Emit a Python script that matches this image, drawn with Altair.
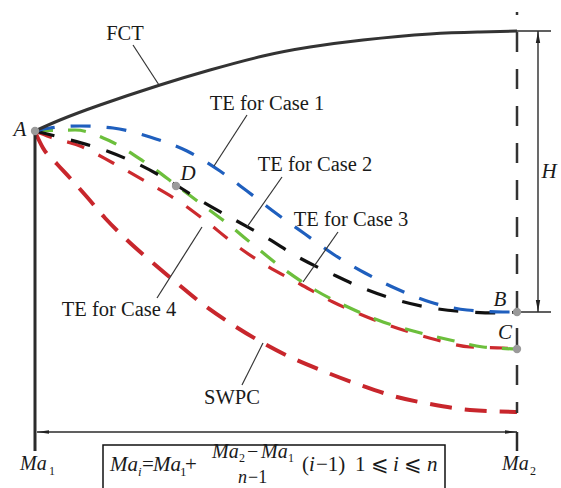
import altair as alt
import pandas as pd

W, H = 561, 488
FONT = "'Liberation Serif', 'DejaVu Serif', serif"

# ---- curve data (drawing units: x = Mach position, y = height, top-down) ----
fct_x = [35, 60, 100, 160, 210, 263, 310, 363, 430, 480, 517]
fct_y = [131, 120, 105, 85, 70, 56, 47, 40, 34, 32, 31]

case1_x = [35, 50, 80, 113, 150, 187, 220, 247, 277, 305, 333, 365, 397, 430, 467, 503, 517]
case1_y = [131, 128, 126, 128, 137, 151, 171, 191, 214, 234, 254, 273, 289, 302, 310, 312, 312]

case2_x = [35, 63, 107, 140, 176, 203, 235, 267, 298, 332, 365, 397, 432, 470, 503, 517]
case2_y = [131, 138, 151, 165, 185, 202, 220, 238, 257, 274, 289, 300, 308, 312, 313, 312]

case3_x = [35, 75, 110, 143, 176, 200, 228, 257, 285, 315, 350, 383, 417, 450, 483, 517]
case3_y = [131, 130, 141, 161, 185, 203, 224, 248, 270, 290, 308, 322, 332, 340, 347, 349]

case4_x = [35, 50, 80, 113, 150, 180, 207, 237, 267, 300, 333, 367, 403, 437, 470, 503, 517]
case4_y = [131, 137, 146, 163, 184, 202, 222, 246, 266, 284, 302, 317, 330, 340, 347, 348, 349]

swpc_x = [36, 43, 57, 70, 87, 105, 127, 153, 178, 200, 230, 263, 290, 323, 360, 397, 430, 470, 517]
swpc_y = [134, 148, 164, 178, 197, 218, 240, 263, 284, 302, 323, 343, 357, 371, 385, 397, 404, 410, 412]

# ---- labels ----
label_text = ["FCT", "TE for Case 1", "TE for Case 2", "TE for Case 3", "TE for Case 4", "SWPC"]
label_x = [125, 267, 315, 351, 119, 232]
label_y = [34, 104, 165, 220, 310, 398]

point_text = ["A", "D", "B", "C", "H"]
point_lx = [20, 188, 500, 505, 549]
point_ly = [130, 174, 300, 333, 172]

key_x = [35, 176, 517, 517]
key_y = [131, 186, 312, 349]

# leader lines for labels
lead_x = [133, 247, 282, 338, 202, 242]
lead_y = [45, 115, 177, 232, 227, 385]
lead_x2 = [159, 214, 247, 303, 157, 263]
lead_y2 = [85, 166, 227, 282, 298, 343]

# formula / axis text pieces
piece_text = ["Ma", "1", "Ma", "2",
              "Ma", "i", "=", "Ma", "1", "+",
              "Ma", "2", "−", "Ma", "1", "n", "−1",
              "(", "i", "−1)", "1", "⩽", "i", "⩽", "n"]
piece_style = ["italic", "normal", "italic", "normal",
               "italic", "italic", "normal", "italic", "normal", "normal",
               "italic", "normal", "normal", "italic", "normal", "italic", "normal",
               "normal", "italic", "normal", "normal", "normal", "italic", "normal", "italic"]
piece_x = [20, 49, 502, 530,
           110, 138, 142, 153, 180, 185,
           212, 239, 247, 261, 288, 238, 248,
           302, 309, 316, 355, 371, 393, 404, 427]
piece_y = [470, 475, 470, 475,
           471, 476, 471, 471, 476, 471,
           458, 462, 458, 458, 462, 483, 483,
           471, 471, 471, 471, 471, 471, 471, 471]
piece_size = [20, 12, 20, 12,
              21, 13, 21, 21, 13, 21,
              20, 12, 20, 20, 12, 18, 18,
              21, 21, 21, 21, 21, 21, 21, 21]

xs = alt.Scale(domain=[0, W], nice=False, zero=False)
ys = alt.Scale(domain=[0, H], reverse=True, nice=False, zero=False)
X = lambda f: alt.X(f, scale=xs, axis=None)
Y = lambda f: alt.Y(f, scale=ys, axis=None)


def curve(xv, yv, color, width, dash=None, interp="monotone"):
    df = pd.DataFrame({"x": xv, "y": yv, "o": list(range(len(xv)))})
    kw = dict(color=color, strokeWidth=width, interpolate=interp, strokeCap="butt")
    if dash:
        kw["strokeDash"] = dash
    return alt.Chart(df).mark_line(**kw).encode(x=X("x:Q"), y=Y("y:Q"), order="o:Q")


layers = []
layers.append(curve(swpc_x, swpc_y, "#c8262c", 4, [22, 13]))
layers.append(curve(case4_x, case4_y, "#cc2a2e", 3.2, [18, 16]))
layers.append(curve(case3_x, case3_y, "#6cbf3c", 3.2, [18, 15]))
layers.append(curve(case2_x, case2_y, "#111111", 3.2, [20, 17]))
layers.append(curve(case1_x, case1_y, "#1f5fbe", 3.2, [20, 16]))
layers.append(curve(fct_x, fct_y, "#333333", 3, interp="natural"))

# structural lines
seg = pd.DataFrame({
    "x": [35, 37, 538, 517, 517, 517],
    "y": [131, 432, 31, 31, 312, 432],
    "x2": [35, 517, 538, 551, 551, 517],
    "y2": [451, 432, 312, 31, 312, 451],
    "w": [3, 1.4, 1.4, 1.4, 1.4, 2.5],
})
layers.append(alt.Chart(seg).mark_rule(color="#2b2b2b").encode(
    x=X("x:Q"), y=Y("y:Q"), x2="x2:Q", y2="y2:Q",
    strokeWidth=alt.StrokeWidth("w:Q", scale=None)))

dash_df = pd.DataFrame({"x": [517], "y": [12], "y2": [413]})
layers.append(alt.Chart(dash_df).mark_rule(color="#333333", strokeWidth=2.5, strokeDash=[20, 17],
                                           strokeDashOffset=17).encode(
    x=X("x:Q"), y=Y("y:Q"), y2="y2:Q"))

lead_df = pd.DataFrame({"x": lead_x, "y": lead_y, "x2": lead_x2, "y2": lead_y2})
layers.append(alt.Chart(lead_df).mark_rule(color="#333333", strokeWidth=1.2).encode(
    x=X("x:Q"), y=Y("y:Q"), x2="x2:Q", y2="y2:Q"))

# arrowheads
arrow_df = pd.DataFrame({
    "x": [43, 511, 538, 538],
    "y": [432, 432, 37, 306],
    "shape": ["M-1,0L1,-0.28L1,0.28Z", "M1,0L-1,-0.28L-1,0.28Z",
              "M0,-1L-0.36,1L0.36,1Z", "M0,1L-0.36,-1L0.36,-1Z"],
})
layers.append(alt.Chart(arrow_df).mark_point(filled=True, color="#222222", opacity=1, size=144, strokeWidth=0).encode(
    x=X("x:Q"), y=Y("y:Q"), shape=alt.Shape("shape:N", scale=None)))

# formula box
box_df = pd.DataFrame({"x": [103], "x2": [445], "y": [445], "y2": [500]})
layers.append(alt.Chart(box_df).mark_rect(fill=None, stroke="#111111", strokeWidth=1.5).encode(
    x=X("x:Q"), x2="x2:Q", y=Y("y:Q"), y2="y2:Q"))

# key points
key_df = pd.DataFrame({"x": key_x, "y": key_y})
layers.append(alt.Chart(key_df).mark_circle(color="#9a9a9a", opacity=1, size=70).encode(
    x=X("x:Q"), y=Y("y:Q")))

# labels
lab_df = pd.DataFrame({"t": label_text, "x": label_x, "y": label_y})
layers.append(alt.Chart(lab_df).mark_text(font=FONT, fontSize=20.5, color="#1a1a1a", align="center", baseline="middle").encode(
    x=X("x:Q"), y=Y("y:Q"), text="t:N"))

pt_df = pd.DataFrame({"t": point_text, "x": point_lx, "y": point_ly})
layers.append(alt.Chart(pt_df).mark_text(font=FONT, fontSize=21, fontStyle="italic", color="#1a1a1a", align="center", baseline="middle").encode(
    x=X("x:Q"), y=Y("y:Q"), text="t:N"))

pc_df = pd.DataFrame({"t": piece_text, "x": piece_x, "y": piece_y, "s": piece_size, "st": piece_style})
for style in ["italic", "normal"]:
    sub = pc_df[pc_df["st"] == style]
    layers.append(alt.Chart(sub).mark_text(font=FONT, fontStyle=style, color="#1a1a1a", align="left", baseline="alphabetic").encode(
        x=X("x:Q"), y=Y("y:Q"), text="t:N", size=alt.Size("s:Q", scale=None)))

chart = alt.layer(*layers).properties(
    width=W, height=H, padding=0,
    autosize=alt.AutoSizeParams(type="none"),
    background="white",
).configure_view(stroke=None)

chart.save("out.html", embed_options={"renderer": "svg", "actions": False})
